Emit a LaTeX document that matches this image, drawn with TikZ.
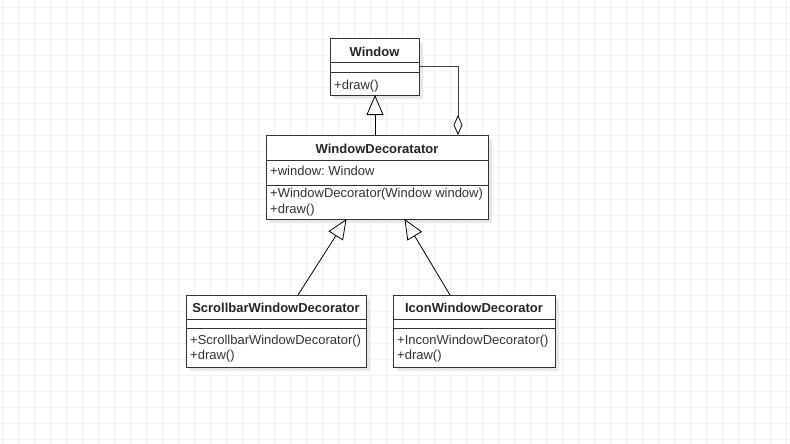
\documentclass[tikz,border=0pt]{standalone}
\usepackage{fontspec}
\setmainfont{Liberation Sans}
\usetikzlibrary{arrows.meta,calc,shadows}
\frenchspacing
\begin{document}
\begin{tikzpicture}[x=1pt,y=-1pt,
  gridline/.style={draw=black!5, line width=0.8pt},
  classbox/.style={draw=black!80, line width=1pt, fill=white, inner sep=0pt, outer sep=0pt, anchor=north west,
     drop shadow={shadow xshift=4pt, shadow yshift=-4pt, fill=black!9, opacity=1}},
  sepline/.style={draw=black!80, line width=1pt},
  title/.style={font=\fontsize{13}{15}\selectfont\bfseries, text=black!85, inner sep=0pt},
  member/.style={font=\fontsize{13}{15}\selectfont, text=black!80, inner sep=0pt, anchor=west},
  inherit/.style={draw=black, line width=0.8pt, -{Triangle[open, length=20pt, width=17pt, line width=0.8pt]}},
  aggregate/.style={draw=black!75, line width=1pt, -{Diamond[open, length=20pt, width=9pt, line width=0.8pt, color=black]}}
]
\useasboundingbox (0,0) rectangle (790,444);
\fill[white] (0,0) rectangle (790,444);
\foreach \x in {2,18,...,786} \draw[gridline] (\x,0) -- (\x,444);
\foreach \y in {7,23,...,439} \draw[gridline] (0,\y) -- (790,\y);

% Window
\node[classbox, minimum width=89pt, minimum height=56pt] (win) at (330,39) {};
\draw[sepline] (330,63) -- (419,63);
\draw[sepline] (330,73) -- (419,73);
\node[title] (wint) at (374.5,51.5) {Window};
\node[member] (wind) at (334,86) {+draw()};

% WindowDecoratator
\node[classbox, minimum width=222pt, minimum height=84pt] (dec) at (266,135) {};
\draw[sepline] (266,160) -- (488,160);
\draw[sepline] (266,185) -- (488,185);
\node[title] (dect) at (377,148.5) {WindowDecoratator};
\node[member] (deca) at (270,171) {+window: Window};
\node[member] (decc) at (270,194) {+WindowDecorator(Window window)};
\node[member] (decd) at (270,210) {+draw()};

% ScrollbarWindowDecorator
\node[classbox, minimum width=180pt, minimum height=72pt] (scr) at (186,295) {};
\draw[sepline] (186,319) -- (366,319);
\draw[sepline] (186,328) -- (366,328);
\node[title] (scrt) at (276,308) {ScrollbarWindowDecorator};
\node[member] (scrc) at (190,341.5) {+ScrollbarWindowDecorator()};
\node[member] (scrd) at (190,356.5) {+draw()};

% IconWindowDecorator
\node[classbox, minimum width=162pt, minimum height=72pt] (ico) at (393,295) {};
\draw[sepline] (393,319) -- (555,319);
\draw[sepline] (393,328) -- (555,328);
\node[title] (icot) at (474,308) {IconWindowDecorator};
\node[member] (icoc) at (397,341.5) {+InconWindowDecorator()};
\node[member] (icod) at (397,356.5) {+draw()};

% connectors
\draw[inherit] ($(dec.north west)+(109,0)$) -- ($(win.south west)+(45,0)$);
\draw[aggregate] ($(win.north east)+(0,28)$) -| ($(dec.north west)+(192,0)$);
\draw[inherit] ($(scr.north west)+(112,0)$) -- ($(dec.south west)+(80.5,0)$);
\draw[inherit] ($(ico.north west)+(57,0)$) -- ($(dec.south west)+(138.5,0)$);
\end{tikzpicture}
\end{document}
